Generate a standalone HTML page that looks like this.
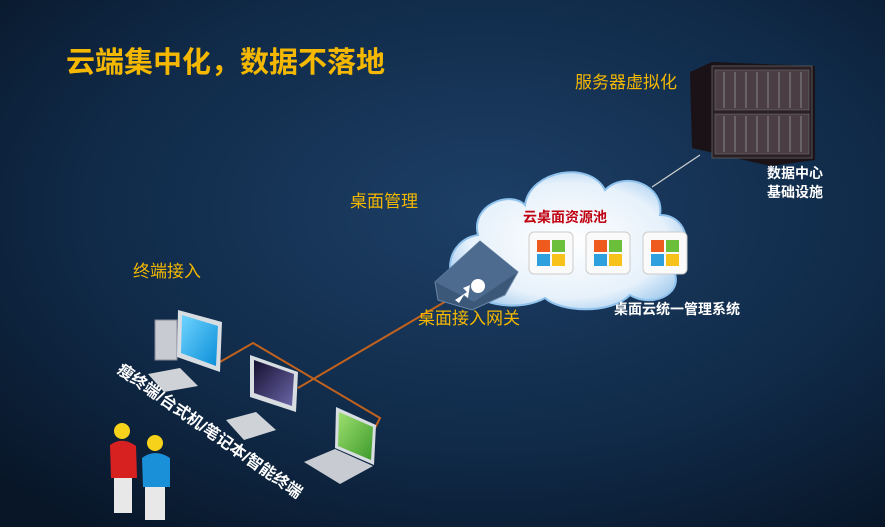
<!DOCTYPE html>
<html><head><meta charset="utf-8"><style>
body{margin:0;width:885px;height:527px;overflow:hidden;background:#0b1a30;}
svg{display:block}
text{font-family:"Liberation Sans","Noto Sans CJK SC",sans-serif;}
</style></head><body>
<svg width="885" height="527" viewBox="0 0 885 527">
<defs>
<radialGradient id="bg" cx="0.55" cy="0.4" r="0.75">
<stop offset="0" stop-color="#1d3f66"/><stop offset="0.6" stop-color="#102a48"/><stop offset="1" stop-color="#081628"/></radialGradient>
<radialGradient id="cl" cx="0.5" cy="0.5" r="0.6"><stop offset="0" stop-color="#ffffff"/><stop offset="0.7" stop-color="#e6f1fb"/><stop offset="1" stop-color="#9cc7ec"/></radialGradient>
<linearGradient id="scr1" x1="0" y1="0" x2="1" y2="1"><stop offset="0" stop-color="#6fd4ff"/><stop offset="1" stop-color="#0a8ed8"/></linearGradient>
<linearGradient id="scr2" x1="0" y1="0" x2="1" y2="1"><stop offset="0" stop-color="#141030"/><stop offset="1" stop-color="#6c66a8"/></linearGradient>
<linearGradient id="scr3" x1="0" y1="0" x2="1" y2="1"><stop offset="0" stop-color="#9fe070"/><stop offset="1" stop-color="#3c9a2a"/></linearGradient>
</defs>
<rect width="885" height="527" fill="url(#bg)"/>
<text x="66" y="72" font-size="29" font-weight="bold" fill="#f5b800">云端集中化，数据不落地</text>
<text x="575" y="88" font-size="17" fill="#f5b800">服务器虚拟化</text>
<text x="350" y="207" font-size="17" fill="#f5b800">桌面管理</text>
<text x="133" y="277" font-size="17" fill="#f5b800">终端接入</text>
<!-- server -->
<g>
<polygon points="690,72 712,62 815,66 815,160 770,166 692,148" fill="#1a1216"/>
<rect x="712" y="66" width="100" height="92" fill="#2a2026" stroke="#555" stroke-width="1"/>
<g fill="#4a3e44" stroke="#777" stroke-width="0.5">
<rect x="715" y="70" width="94" height="40"/><rect x="715" y="114" width="94" height="40"/></g>
<g stroke="#888" stroke-width="1">
<line x1="724" y1="72" x2="724" y2="108"/><line x1="735" y1="72" x2="735" y2="108"/><line x1="746" y1="72" x2="746" y2="108"/><line x1="757" y1="72" x2="757" y2="108"/><line x1="768" y1="72" x2="768" y2="108"/><line x1="779" y1="72" x2="779" y2="108"/><line x1="790" y1="72" x2="790" y2="108"/><line x1="801" y1="72" x2="801" y2="108"/>
<line x1="724" y1="116" x2="724" y2="152"/><line x1="735" y1="116" x2="735" y2="152"/><line x1="746" y1="116" x2="746" y2="152"/><line x1="757" y1="116" x2="757" y2="152"/><line x1="768" y1="116" x2="768" y2="152"/><line x1="779" y1="116" x2="779" y2="152"/><line x1="790" y1="116" x2="790" y2="152"/><line x1="801" y1="116" x2="801" y2="152"/></g>
</g>
<line x1="652" y1="187" x2="700" y2="155" stroke="#d0d0d0" stroke-width="1.2"/>
<text x="767" y="178" font-size="14" font-weight="bold" fill="#fff">数据中心</text>
<text x="767" y="197" font-size="14" font-weight="bold" fill="#fff">基础设施</text>
<!-- cloud -->
<g fill="url(#cl)" stroke="#8fc2ec" stroke-width="2">
<path d="M470,290 C440,285 445,240 478,235 C470,205 510,190 525,205 C530,170 590,160 605,190 C625,170 665,185 660,215 C690,215 695,255 670,265 C690,290 655,310 630,295 C610,315 560,312 545,298 C520,312 480,305 470,290 Z"/>
</g>
<text x="523" y="222" font-size="14" font-weight="bold" fill="#c00010">云桌面资源池</text>
<g>
<g transform="translate(529,232)"><rect width="44" height="42" rx="5" fill="#fafafa" stroke="#ccc"/><rect x="8" y="8" width="13" height="12" fill="#ef5b1f"/><rect x="23" y="8" width="13" height="12" fill="#6cbf3a"/><rect x="8" y="22" width="13" height="12" fill="#2ea0de"/><rect x="23" y="22" width="13" height="12" fill="#f7c21a"/></g>
<g transform="translate(586,232)"><rect width="44" height="42" rx="5" fill="#fafafa" stroke="#ccc"/><rect x="8" y="8" width="13" height="12" fill="#ef5b1f"/><rect x="23" y="8" width="13" height="12" fill="#6cbf3a"/><rect x="8" y="22" width="13" height="12" fill="#2ea0de"/><rect x="23" y="22" width="13" height="12" fill="#f7c21a"/></g>
<g transform="translate(643,232)"><rect width="44" height="42" rx="5" fill="#fafafa" stroke="#ccc"/><rect x="8" y="8" width="13" height="12" fill="#ef5b1f"/><rect x="23" y="8" width="13" height="12" fill="#6cbf3a"/><rect x="8" y="22" width="13" height="12" fill="#2ea0de"/><rect x="23" y="22" width="13" height="12" fill="#f7c21a"/></g>
</g>
<text x="614" y="314" font-size="14" font-weight="bold" fill="#fff">桌面云统一管理系统</text>
<!-- connectors -->
<g stroke="#c0621e" stroke-width="2" fill="none">
<polyline points="220,362 253,343 380,418 375,428"/>
<polyline points="298,388 448,300"/>
</g>
<!-- gateway -->
<polygon points="435,282 480,241 518,272 505,295 472,310 438,300" fill="#3c5878" stroke="#6a86a8"/>
<polygon points="435,282 480,241 518,272 474,302" fill="#4d6b8e"/>
<circle cx="478" cy="286" r="7" fill="#fff"/>
<polygon points="455,300 467,292 463,288 470,285 468,298 464,295 459,303" fill="#fff"/>
<text x="418" y="324" font-size="17" fill="#f5b800">桌面接入网关</text>
<!-- desktop 1 -->
<rect x="155" y="320" width="22" height="40" fill="#c8ccd2" stroke="#889"/>
<polygon points="178,310 222,322 220,372 177,357" fill="#d8dde2"/>
<polygon points="182,315 218,326 216,366 181,353" fill="url(#scr1)"/>
<polygon points="148,374 180,368 198,386 164,392" fill="#cfd3d8"/>
<!-- desktop 2 -->
<polygon points="250,355 298,372 296,412 250,397" fill="#d8dde2"/>
<polygon points="254,360 294,374 292,406 254,393" fill="url(#scr2)"/>
<polygon points="226,420 256,412 276,430 244,440" fill="#cfd3d8"/>
<!-- laptop -->
<polygon points="336,407 376,425 374,465 335,448" fill="#d8dde2"/>
<polygon points="339,412 373,427 371,460 338,446" fill="url(#scr3)"/>
<polygon points="304,462 335,449 373,466 340,484" fill="#c8ccd2"/>
<!-- people -->
<circle cx="122" cy="431" r="8" fill="#f7d21a"/>
<path d="M110,445 Q122,436 136,446 L137,478 L111,478 Z" fill="#d72020"/>
<rect x="114" y="478" width="18" height="35" fill="#e8e8e8"/>
<circle cx="155" cy="443" r="8" fill="#f7d21a"/>
<path d="M142,458 Q155,448 170,458 L170,487 L143,487 Z" fill="#1a90d8"/>
<rect x="145" y="487" width="20" height="33" fill="#e8e8e8"/>
<text x="0" y="0" font-size="16" font-weight="bold" fill="#fff" transform="translate(116,372) rotate(35)">瘦终端/台式机/笔记本/智能终端</text>
</svg>
</body></html>
